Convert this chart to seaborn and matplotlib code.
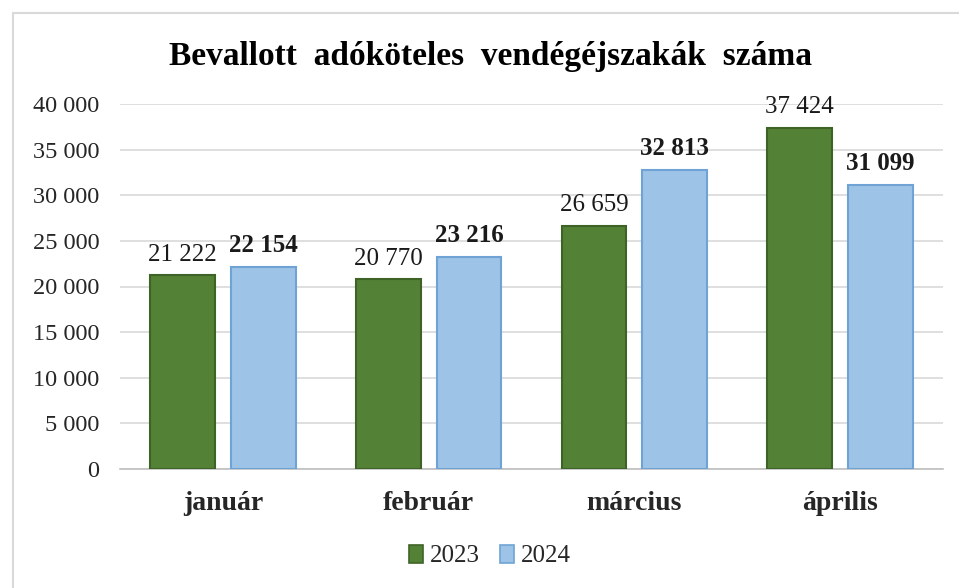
import matplotlib
matplotlib.use('Agg')
import matplotlib.pyplot as plt
import seaborn as sns
import pandas as pd
from matplotlib.patches import Rectangle

# Data
months = ['január', 'február', 'március', 'április']
years = ['2023', '2024']
values_2023 = [21222, 20770, 26659, 37424]
values_2024 = [22154, 23216, 32813, 31099]
yticks = [0, 5000, 10000, 15000, 20000, 25000, 30000, 35000, 40000]

df = pd.DataFrame({
    'honap': months * 2,
    'ev': ['2023'] * 4 + ['2024'] * 4,
    'ertek': values_2023 + values_2024,
})

def fmt(v):
    return f'{v:,}'.replace(',', ' ')

sns.set_theme(style='white')
plt.rcParams['font.family'] = ['Liberation Serif', 'DejaVu Serif']

fig = plt.figure(figsize=(9.59, 5.88), dpi=100)
# chart frame
fig.patches.append(Rectangle((13 / 959, -0.01), 1.0, 1 - 13 / 588 + 0.01, transform=fig.transFigure,
                             fill=False, edgecolor='#d9d9d9', linewidth=1.5))
ax = fig.add_axes([120 / 959, 1 - 469 / 588, (943 - 120) / 959, (469 - 104) / 588])

palette = {'2023': '#538135', '2024': '#9dc3e6'}
edges = {'2023': '#3d6426', '2024': '#6fa3d6'}
sns.barplot(data=df, x='honap', y='ertek', hue='ev', order=months, hue_order=years,
            palette=palette, saturation=1, width=0.786, gap=0.2, ax=ax, legend=False, zorder=3)

for cont, yr in zip(ax.containers, years):
    for bar in cont:
        bar.set_edgecolor(edges[yr])
        bar.set_linewidth(1.5)
    labels = [fmt(v) for v in (values_2023 if yr == '2023' else values_2024)]
    ax.bar_label(cont, labels=labels, padding=7, fontsize=18,
                 fontweight='bold' if yr == '2024' else 'normal', color='#1a1a1a')

ax.set_ylim(0, 40000)
ax.set_xlim(-0.5, 3.5)
ax.set_yticks(yticks)
ax.set_yticklabels([fmt(v) for v in yticks], fontsize=17.5, color='#262626')
ax.tick_params(axis='y', length=0, pad=15)
ax.tick_params(axis='x', length=0, pad=16, labelsize=20)
for lbl in ax.get_xticklabels():
    lbl.set_fontweight('bold')
ax.set_xlabel('')
ax.set_ylabel('')
ax.grid(axis='y', color='#d9d9d9', linewidth=1.2, zorder=0)
for s in ['top', 'right', 'left']:
    ax.spines[s].set_visible(False)
ax.spines['bottom'].set_color('#bfbfbf')
ax.spines['bottom'].set_linewidth(1.2)
ax.set_facecolor('none')

fig.text(490 / 959, 1 - 57 / 588, 'Bevallott  adóköteles  vendégéjszakák  száma',
         ha='center', va='center', fontsize=24, fontweight='bold', color='#000000')

handles = [Rectangle((0, 0), 1, 1, facecolor=palette[y], edgecolor=edges[y], linewidth=1.2) for y in years]
fig.legend(handles, years, loc='center', bbox_to_anchor=(490 / 959, 1 - 556 / 588), ncol=2,
           frameon=False, fontsize=18, handlelength=0.55, handleheight=0.75, handletextpad=0.3,
           columnspacing=0.8)

fig.savefig('out.png', dpi=100)
